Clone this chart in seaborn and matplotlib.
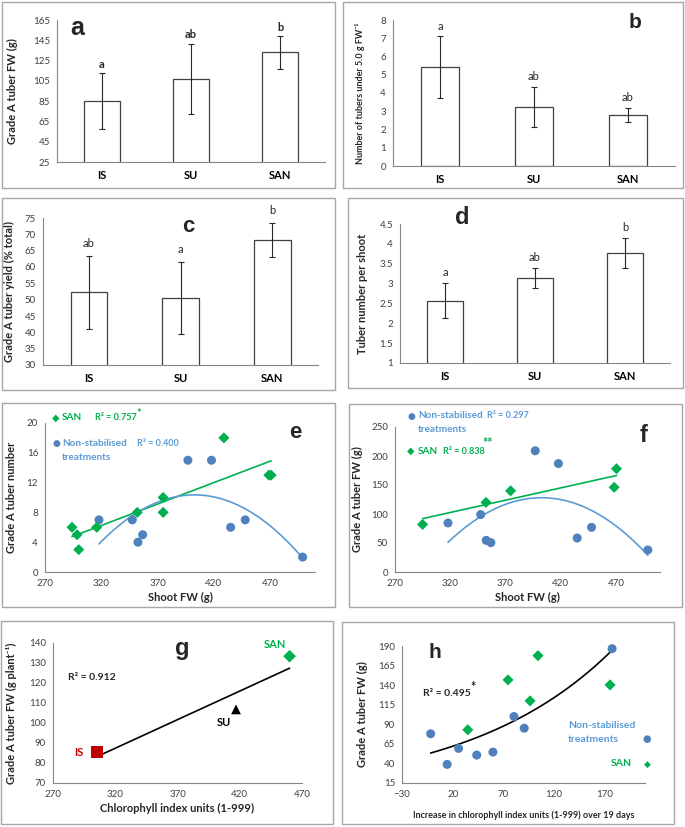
import numpy as np
import pandas as pd
import matplotlib
matplotlib.use('Agg')
import matplotlib.pyplot as plt
from matplotlib.patches import Rectangle
import seaborn as sns

# bar panels a-d: treatment means, error bars and letters
treatments = ['IS', 'SU', 'SAN']
fw_mean = [85, 107, 133]
fw_err = [27.5, 34.5, 16]
fw_letters = ['a', 'ab', 'b']
small_mean = [5.4, 3.25, 2.8]
small_err = [1.7, 1.1, 0.38]
small_letters = ['a', 'ab', 'ab']
yield_mean = [52.2, 50.5, 68.3]
yield_err = [11.2, 11.0, 5.2]
yield_letters = ['ab', 'a', 'b']
shoot_mean = [2.57, 3.15, 3.77]
shoot_err = [0.44, 0.25, 0.37]
shoot_letters = ['a', 'ab', 'b']

# panels e/f: shoot FW against grade A tubers
ns_shoot = [318, 347.6, 352.6, 356.8, 397, 418, 435, 448, 499]
ns_num = [7, 7, 4, 5, 15, 15, 6, 7, 2]
ns_fw = [84.5, 99, 54.6, 50.6, 209, 187, 58.6, 77, 38]
san_shoot_e = [294, 298.5, 300, 316, 352, 375, 375, 429, 469, 471]
san_num_e = [6, 5, 3, 6, 8, 10, 8, 18, 13, 13]
san_shoot_f = [295, 352.4, 374.7, 468.5, 470.6]
san_fw_f = [82, 120, 140, 146, 178]

# panel g: chlorophyll index against grade A FW (treatment means)
chl_index = [305, 417, 460]
chl_fw = [85.4, 106.8, 133.4]

# panel h: increase in chlorophyll index against grade A FW
ns_chl_inc = [-1.7, 14.6, 25.9, 43.8, 59.8, 80.6, 90.7, 177.5]
ns_fw_h = [77.9, 38.8, 59.2, 50.7, 54.5, 99.9, 85, 186.6]
san_chl_inc = [35, 74.7, 96.5, 104.3, 175.5]
san_fw_h = [83, 146.7, 119.9, 177.7, 140.3]

BLUE = '#4F81BD'
BLUE_TXT = '#5B9BD5'
GREEN = '#00B050'
RED = '#C00000'
LEG = 7.2

sns.set_style('white')
plt.rcParams['font.family'] = ['Lato', 'DejaVu Sans']

W, H = 685, 827
fig = plt.figure(figsize=(W / 100, H / 100), dpi=100)


def box(x0, y0, x1, y1):
    return [x0 / W, 1 - y1 / H, (x1 - x0) / W, (y1 - y0) / H]


def frame(x0, y0, x1, y1):
    fig.patches.append(Rectangle((x0 / W, 1 - y1 / H), (x1 - x0) / W, (y1 - y0) / H,
                                 transform=fig.transFigure, fill=False,
                                 ec='#A6A6A6', lw=1))


def ftext(x, y, s, **kw):
    kw.setdefault('va', 'center')
    fig.text(x / W, 1 - y / H, s, **kw)


def glyph(x, y, s, color, size):
    # legend symbol drawn as a text glyph
    ftext(x, y, s, color=color, fontsize=size, family='DejaVu Sans', ha='center')


def style(ax, rect, ylabel, ylab_x, ysize=8):
    sns.despine(ax=ax)
    for s in ['left', 'bottom']:
        ax.spines[s].set_color('#868686')
        ax.spines[s].set_linewidth(0.8)
    ax.tick_params(colors='#868686', labelcolor='#404040', labelsize=7,
                   length=3, width=0.8, pad=2)
    ax.set_ylabel(ylabel, fontsize=ysize, fontweight='bold')
    ax.yaxis.set_label_coords((ylab_x - rect[0]) / (rect[2] - rect[0]), 0.5)


def bar_panel(rect, means, errs, letters, ylim, step, ylabel, ylab_x,
              bold_letters, offset, ysize=8):
    ax = fig.add_axes(box(*rect))
    df = pd.DataFrame({'trt': treatments, 'val': means})
    sns.barplot(data=df, x='trt', y='val', color='white', saturation=1,
                edgecolor='#404040', linewidth=0.9, width=0.4, ax=ax)
    ax.errorbar(range(len(means)), means, yerr=errs, fmt='none',
                ecolor='#262626', elinewidth=0.8, capsize=2, capthick=0.8)
    for i, (m, e, l) in enumerate(zip(means, errs, letters)):
        ax.annotate(l, (i, m + e), xytext=(0, offset), textcoords='offset points',
                    ha='center', va='bottom', fontsize=8, color='#262626',
                    fontweight='bold' if bold_letters else 'normal')
    ax.set_xlim(-0.5, 2.5)
    ax.set_ylim(ylim)
    ax.set_yticks(np.arange(ylim[0], ylim[1] + step / 2, step))
    ax.set_yticklabels(['{:g}'.format(v) for v in ax.get_yticks()])
    style(ax, rect, ylabel, ylab_x, ysize)
    ax.set_xlabel('')
    ax.set_xticks([-0.5, 0.5, 1.5, 2.5], minor=True)
    ax.tick_params(axis='x', which='major', length=0, labelcolor='black',
                   labelsize=8, pad=6)
    ax.tick_params(axis='x', which='minor', length=3, color='#868686')
    for t in ax.get_xticklabels():
        t.set_fontweight('bold')
    return ax


def scatter_style(ax, rect, xlim, xticks, ylim, yticks, xlabel, ylabel, ylab_x, xsize=8):
    ax.set_xlim(xlim)
    ax.set_xticks(xticks)
    ax.set_ylim(ylim)
    ax.set_yticks(yticks)
    style(ax, rect, ylabel, ylab_x)
    ax.set_xlabel(xlabel, fontsize=xsize, fontweight='bold', labelpad=3)


# ---- panel frames
frame(2, 2, 335, 188)
frame(343, 2, 683, 188)
frame(2, 198, 335, 390)
frame(348, 198, 683, 388)
frame(2, 403, 335, 607)
frame(349, 404, 682, 607)
frame(1, 621, 333, 824)
frame(342, 622, 674, 824)

# ---- a
bar_panel((57, 20, 325, 162), fw_mean, fw_err, fw_letters, (25, 165), 20,
          'Grade A tuber FW (g)', 18, True, 2.5)
ftext(77, 28, 'a', fontsize=18, fontweight='bold', family='Liberation Sans', ha='center')

# ---- b
bar_panel((393, 20, 675, 166), small_mean, small_err, small_letters, (0, 8), 1,
          'Number of tubers under 5.0 g FW⁻¹', 365, False, 3.5, ysize=6.5)
ftext(635, 22, 'b', fontsize=15, fontweight='bold', family='Liberation Sans', ha='center')

# ---- c
bar_panel((43, 218, 318, 365), yield_mean, yield_err, yield_letters, (30, 75), 5,
          'Grade A tuber yield (% total)', 15, False, 5)
ftext(188, 227, 'c', fontsize=16, fontweight='bold', family='Liberation Sans', ha='center')

# ---- d
bar_panel((400, 224, 670, 363), shoot_mean, shoot_err, shoot_letters, (1, 4.5), 0.5,
          'Tuber number per shoot', 368, False, 3.5)
ftext(462, 218, 'd', fontsize=17, fontweight='bold', family='Liberation Sans', ha='center')

# ---- e
rect = (45, 423, 315, 572)
ax = fig.add_axes(box(*rect))
sns.scatterplot(x=ns_shoot, y=ns_num, color=BLUE, marker='o', s=42,
                edgecolor='none', ax=ax, zorder=3, clip_on=False)
sns.scatterplot(x=san_shoot_e, y=san_num_e, color=GREEN, marker='D', s=32,
                edgecolor='none', ax=ax, zorder=3, clip_on=False)
xs = np.linspace(min(san_shoot_e), max(san_shoot_e), 50)
ax.plot(xs, np.polyval(np.polyfit(san_shoot_e, san_num_e, 1), xs), color=GREEN, lw=1.2)
xs = np.linspace(min(ns_shoot), max(ns_shoot), 100)
ax.plot(xs, np.polyval(np.polyfit(ns_shoot, ns_num, 2), xs), color=BLUE_TXT, lw=1.2)
scatter_style(ax, rect, (270, 510), [270, 320, 370, 420, 470], (0, 20),
              [0, 4, 8, 12, 16, 20], 'Shoot FW (g)', 'Grade A tuber number', 17)
glyph(56, 418, '◆', GREEN, 7)
ftext(62, 418, 'SAN', color=GREEN, fontsize=LEG, fontweight='bold')
ftext(95, 418, 'R² = 0.757', color=GREEN, fontsize=6.5, fontweight='bold')
ftext(136, 413, '*', color=GREEN, fontsize=8, fontweight='bold')
glyph(56, 443, '●', BLUE, 6.5)
ftext(62, 443, 'Non-stabilised', color=BLUE_TXT, fontsize=LEG, fontweight='bold')
ftext(137, 443, 'R² = 0.400', color=BLUE_TXT, fontsize=6.5, fontweight='bold')
ftext(62, 457, 'treatments', color=BLUE_TXT, fontsize=LEG, fontweight='bold')
ftext(295, 433, 'e', fontsize=16, fontweight='bold', family='Liberation Sans', ha='center')

# ---- f
rect = (395, 427, 660, 572)
ax = fig.add_axes(box(*rect))
sns.scatterplot(x=ns_shoot, y=ns_fw, color=BLUE, marker='o', s=42,
                edgecolor='none', ax=ax, zorder=3, clip_on=False)
sns.scatterplot(x=san_shoot_f, y=san_fw_f, color=GREEN, marker='D', s=32,
                edgecolor='none', ax=ax, zorder=3, clip_on=False)
xs = np.linspace(min(san_shoot_f), max(san_shoot_f), 50)
ax.plot(xs, np.polyval(np.polyfit(san_shoot_f, san_fw_f, 1), xs), color=GREEN, lw=1.2)
xs = np.linspace(min(ns_shoot), max(ns_shoot), 100)
ax.plot(xs, np.polyval(np.polyfit(ns_shoot, ns_fw, 2), xs), color=BLUE_TXT, lw=1.2)
scatter_style(ax, rect, (270, 510), [270, 320, 370, 420, 470], (0, 250),
              [0, 50, 100, 150, 200, 250], 'Shoot FW (g)', 'Grade A tuber FW (g)', 363)
glyph(411, 416, '●', BLUE, 6.5)
ftext(418, 416, 'Non-stabilised', color=BLUE_TXT, fontsize=LEG, fontweight='bold')
ftext(487, 416, 'R² = 0.297', color=BLUE_TXT, fontsize=6.5, fontweight='bold')
ftext(418, 429, 'treatments', color=BLUE_TXT, fontsize=LEG, fontweight='bold')
glyph(411, 451, '◆', GREEN, 7)
ftext(418, 451, 'SAN', color=GREEN, fontsize=LEG, fontweight='bold')
ftext(443, 451, 'R² = 0.838', color=GREEN, fontsize=6.5, fontweight='bold')
ftext(482, 443, '**', color=GREEN, fontsize=9, fontweight='bold')
ftext(644, 435, 'f', fontsize=17, fontweight='bold', family='Liberation Sans', ha='center')

# ---- g
rect = (53, 643, 302, 783)
ax = fig.add_axes(box(*rect))
xs = np.linspace(min(chl_index), max(chl_index), 50)
ax.plot(xs, np.polyval(np.polyfit(chl_index, chl_fw, 1), xs), color='black', lw=1.2, zorder=2)
for xv, yv, mk, col, sz in zip(chl_index, chl_fw, ['s', '^', 'D'], [RED, 'black', GREEN], [75, 50, 42]):
    sns.scatterplot(x=[xv], y=[yv], color=col, marker=mk, s=sz, edgecolor='none',
                    ax=ax, zorder=3, clip_on=False)
scatter_style(ax, rect, (270, 470), [270, 320, 370, 420, 470], (70, 140),
              np.arange(70, 141, 10), 'Chlorophyll index units (1-999)',
              'Grade A tuber FW (g plant⁻¹)', 17)
ftext(68, 677, 'R² = 0.912', fontsize=7.5, fontweight='bold')
ftext(275, 645, 'SAN', color=GREEN, fontsize=8, fontweight='bold', ha='center')
ftext(224, 723, 'SU', color='black', fontsize=8, fontweight='bold', ha='center')
ftext(79, 752, 'IS', color=RED, fontsize=8, fontweight='bold', ha='center')
ftext(182, 648, 'g', fontsize=17, fontweight='bold', family='Liberation Sans', ha='center')

# ---- h
rect = (402, 646, 645, 783)
ax = fig.add_axes(box(*rect))
sns.scatterplot(x=ns_chl_inc, y=ns_fw_h, color=BLUE, marker='o', s=42,
                edgecolor='none', ax=ax, zorder=3, clip_on=False)
sns.scatterplot(x=san_chl_inc, y=san_fw_h, color=GREEN, marker='D', s=32,
                edgecolor='none', ax=ax, zorder=3, clip_on=False)
all_x = np.array(ns_chl_inc + san_chl_inc)
all_y = np.array(ns_fw_h + san_fw_h)
b, ln_a = np.polyfit(all_x, np.log(all_y), 1)
xs = np.linspace(all_x.min(), all_x.max(), 100)
ax.plot(xs, np.exp(ln_a + b * xs), color='black', lw=1.2, zorder=2, clip_on=False)
scatter_style(ax, rect, (-30, 210), [-30, 20, 70, 120, 170], (15, 190),
              [15, 40, 65, 90, 115, 140, 165, 190],
              'Increase in chlorophyll index units (1-999) over 19 days',
              'Grade A tuber FW (g)', 368, xsize=6.5)
ax.xaxis.labelpad = 8
ftext(423, 693, 'R² = 0.495', fontsize=7.5, fontweight='bold')
ftext(470, 687, '*', fontsize=9, fontweight='bold')
ftext(568, 725, 'Non-stabilised', color=BLUE_TXT, fontsize=7.5, fontweight='bold')
ftext(568, 739, 'treatments', color=BLUE_TXT, fontsize=7.5, fontweight='bold')
glyph(647, 739, '●', BLUE, 7)
ftext(611, 764, 'SAN', color=GREEN, fontsize=7.5, fontweight='bold')
glyph(647, 764, '◆', GREEN, 6.5)
ftext(435, 653, 'h', fontsize=15, fontweight='bold', family='Liberation Sans', ha='center')

fig.savefig('out.png', dpi=100, facecolor='white')
